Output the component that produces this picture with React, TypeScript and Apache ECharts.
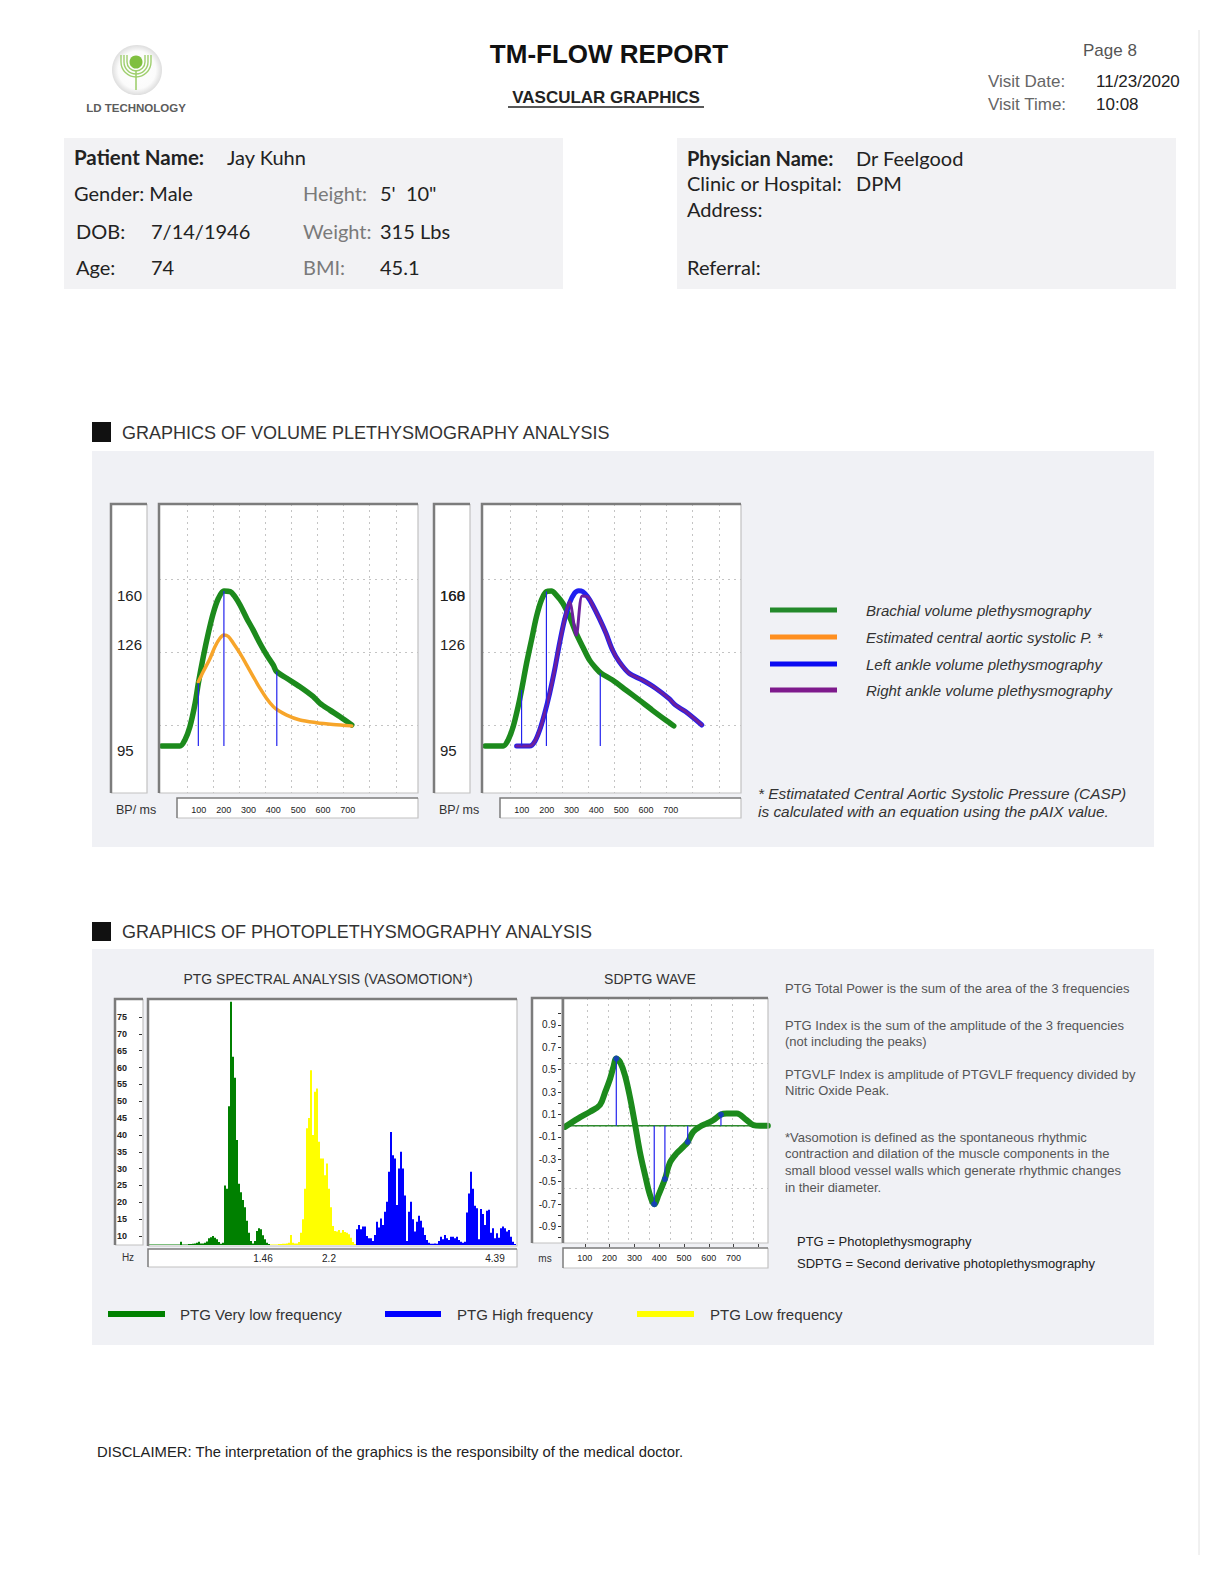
import React, { useEffect, useRef } from "react";
import * as echarts from "echarts";

const SANS = '"Liberation Sans", Arial, Helvetica, sans-serif';
const BODY = 'Lato, "Open Sans", sans-serif';

// ---------- Volume plethysmography: [ms, relative amplitude %] ----------
const brachialLeft = [
  [-50, 17.8], [24, 17.8], [44, 19.9], [64, 24.4], [85, 32.4], [98, 39.3], [118, 48.4], [138, 56.4],
  [158, 63.3], [179, 68.4], [201, 70.9], [226, 70.7], [246, 68.9], [266, 66.1], [293, 61.5], [319, 57.5],
  [346, 53.0], [373, 49.0], [400, 45.5], [413, 43.3], [454, 41.0], [507, 38.1], [561, 34.7], [588, 32.4],
  [628, 30.1], [669, 27.8], [716, 25.0],
];
const caspLeft = [
  [98, 39.8], [118, 43.3], [145, 47.8], [165, 51.8], [185, 54.7], [201, 55.8], [219, 55.3], [239, 53.0],
  [266, 49.5], [293, 45.5], [319, 41.6], [346, 37.6], [373, 34.1], [400, 31.3], [413, 30.4], [454, 28.4],
  [507, 26.7], [574, 25.8], [641, 25.2], [716, 24.7],
];
const markersLeftMs = [98, 201, 414];
const markersLeftTop = [39.3, 70.9, 43.3];

const brachialRight = [
  [-48, 17.8], [25, 17.8], [45, 19.9], [65, 24.4], [85, 31.3], [99, 37.0], [119, 46.1], [139, 54.1],
  [159, 62.1], [179, 67.8], [199, 70.7], [219, 70.9], [239, 69.5], [265, 66.7], [292, 62.1], [319, 56.4],
  [345, 51.8], [372, 47.3], [399, 44.4], [419, 42.7], [465, 40.4], [519, 37.0], [572, 33.6], [625, 30.1],
  [679, 26.7], [712, 24.7],
];
const leftAnkle = [
  [79, 17.8], [132, 17.8], [152, 19.3], [172, 23.3], [192, 29.0], [212, 35.8], [232, 43.8], [252, 53.0],
  [272, 61.0], [292, 66.7], [312, 70.1], [329, 71.0], [345, 70.7], [365, 68.9], [385, 66.1], [412, 61.5],
  [439, 56.4], [465, 50.7], [492, 46.7], [532, 42.7], [585, 40.4], [639, 37.6], [692, 34.1], [719, 31.8],
  [759, 29.6], [825, 25.0],
];
const rightAnkle = [
  [79, 17.8], [132, 17.8], [152, 19.3], [172, 23.3], [192, 29.0], [212, 35.8], [232, 43.8], [252, 53.0],
  [272, 61.0], [292, 67.3], [319, 55.8], [343, 69.2], [365, 68.9], [385, 66.1], [412, 61.5], [439, 56.4],
  [465, 50.7], [492, 46.7], [532, 42.7], [585, 40.4], [639, 37.6], [692, 34.1], [719, 31.8], [759, 29.6],
  [825, 25.0],
];
const markersRightMs = [99, 199, 416];
const markersRightTop = [37.0, 70.7, 42.7];
const volumeBase = 17.8;

const bpLabelsLeft = ["160", "126", "95"];
const bpLabelValuesLeft = [69.2, 52.4, 16.4];
const bpLabelsRight = ["160", "168", "126", "95"];
const bpLabelValuesRight = [69.2, 69.2, 52.4, 16.4];
const msTickLabels = [100, 200, 300, 400, 500, 600, 700];

// ---------- PTG spectral analysis (amplitude per frequency bin) ----------
const vlfValues = [
  7.5, 7.5, 7.5, 7.5, 7.5, 7.5, 7.5, 7.5, 7.5, 7.5, 7.5, 7.5, 7.5, 7.5, 7.5, 7.5,
  8.3, 7.5, 7.5, 7.5, 7.6, 7.6, 7.7, 7.8, 8.0, 8.3, 7.8, 7.8, 8.0, 8.4, 9.3, 9.6,
  10.0, 9.5, 9.0, 8.2, 7.7, 8.0, 25.0, 24.0, 48.5, 79.5, 63.2, 57.0, 38.5, 25.5, 23.0, 20.7,
  18.5, 14.5, 11.0, 8.5, 7.8, 8.5, 11.5, 12.3, 12.0, 10.2, 9.0, 8.0, 7.6,
];
const lfValues = [
  7.5, 7.5, 7.5, 7.5, 7.6, 7.6, 7.7, 7.7, 7.8, 8.0, 10.3, 8.0, 7.8, 7.8, 8.2, 11.0,
  15.0, 24.0, 42.0, 45.0, 59.2, 40.0, 52.8, 53.8, 38.0, 33.0, 33.0, 28.0, 31.5, 24.0, 18.5, 13.0,
  11.5, 11.3, 11.8, 11.0, 11.8, 11.2, 11.0, 10.5, 9.5, 8.2, 7.6,
];
const hfValues = [
  12.0, 13.3, 12.0, 12.8, 12.8, 10.0, 9.3, 9.3, 8.5, 10.3, 14.2, 12.5, 15.2, 13.3, 17.2, 20.2,
  29.1, 40.9, 34.0, 33.0, 19.2, 30.0, 35.0, 30.0, 22.0, 8.5, 17.2, 20.2, 15.0, 11.3, 14.2, 16.0,
  14.5, 12.5, 10.3, 8.8, 8.0, 7.7, 7.7, 7.8, 7.7, 8.5, 9.8, 9.0, 10.3, 9.3, 8.8, 9.8,
  9.8, 9.3, 9.8, 8.8, 8.3, 8.0, 8.3, 17.0, 22.6, 29.1, 24.0, 19.0, 18.2, 9.0, 18.0, 16.5,
  13.3, 17.5, 17.8, 11.0, 12.3, 9.3, 10.8, 9.5, 12.3, 12.8, 12.3, 11.3, 11.8, 9.8, 8.3, 7.6,
];
const hzLabels = ["1.46", "2.2", "4.39"];
const hzLabelBins = [57, 90, 173];

// ---------- SDPTG wave: [ms, amplitude] ----------
const sdptgWave = [
  [20, -0.01], [74, 0.066], [121, 0.125], [161, 0.185], [182, 0.3], [202, 0.42], [216, 0.53], [227, 0.6],
  [242, 0.57], [262, 0.45], [283, 0.245], [303, 0.006], [322, -0.232], [343, -0.44], [363, -0.62], [380, -0.7],
  [397, -0.62], [423, -0.476], [443, -0.33], [470, -0.247], [498, -0.187], [515, -0.145], [537, -0.054],
  [564, -0.009], [592, 0.021], [619, 0.051], [649, 0.1], [672, 0.11], [713, 0.11], [752, 0.051],
  [780, 0.006], [807, 0.0], [838, 0.0],
];
const sdptgPointMs = [227, 380, 423, 515, 649];
const sdptgPointVal = [0.6, -0.7, -0.476, -0.145, 0.1];
const sdptgZero = [[12.1, 0], [838.7, 0]];

// ---------- Texts ----------
const volLegend = [
  "Brachial volume plethysmography",
  "Estimated central aortic systolic P. *",
  "Left ankle volume plethysmography",
  "Right ankle volume plethysmography",
];
const ptgNotes = [
  "PTG Total Power is the sum of the area of the 3 frequencies",
  "PTG Index is the sum of the amplitude of the 3 frequencies",
  "(not including the peaks)",
  "PTGVLF Index is amplitude of PTGVLF frequency divided by",
  "Nitric Oxide Peak.",
  "*Vasomotion is defined as the spontaneous rhythmic",
  "contraction and dilation of the muscle components in the",
  "small blood vessel walls which generate rhythmic changes",
  "in their diameter.",
];

const GREEN = "#1c8a1c";
const ORANGE = "#f7a52a";
const BLUE = "#1f1ff0";
const PURPLE = "#6d1f9e";
const MARK = "#2323ee";
const GRID_LINE = { type: [2, 4] as any, color: "#c4c4c4", width: 1 };

export default function App() {
  const ref = useRef<HTMLDivElement>(null);

  useEffect(() => {
    if (!ref.current) return;
    const chart = echarts.init(ref.current, null, { renderer: "svg" });

    const grids: any[] = [];
    const xAxes: any[] = [];
    const yAxes: any[] = [];
    const series: any[] = [];
    const addGrid = (rect: any, xa: any, ya: any) => {
      const gi = grids.length;
      grids.push({ ...rect, containLabel: false, show: false });
      xAxes.push({ ...xa, gridIndex: gi });
      yAxes.push({ ...ya, gridIndex: gi });
      return gi;
    };
    const hiddenAxis = { type: "value", show: false, min: 0, max: 1 };
    const splitOnly = (min: number, max: number, interval: number) => ({
      type: "value", min, max, interval,
      axisLine: { show: false }, axisTick: { show: false }, axisLabel: { show: false },
      splitLine: { show: true, showMinLine: false, showMaxLine: false, lineStyle: GRID_LINE },
    });
    const lineSeries = (gi: number, data: any, color: string, width: number, z: number, smooth: any = 0.3) => ({
      type: "line", xAxisIndex: gi, yAxisIndex: gi, data, smooth, symbol: "none", z, silent: true,
      lineStyle: { color, width, cap: "round", join: "round" },
    });
    const msFormatter = (v: number) => (msTickLabels.indexOf(Math.round(v)) >= 0 ? String(Math.round(v)) : "");

    // ---- volume charts ----
    const volCharts = [
      { dx: 0, lines: [[brachialLeft, GREEN, 5.5], [caspLeft, ORANGE, 3.5]], mMs: markersLeftMs, mTop: markersLeftTop, labels: bpLabelsLeft, labelVals: bpLabelValuesLeft },
      { dx: 323, lines: [[brachialRight, GREEN, 5.5], [leftAnkle, BLUE, 5], [rightAnkle, PURPLE, 3]], mMs: markersRightMs, mTop: markersRightTop, labels: bpLabelsRight, labelVals: bpLabelValuesRight },
    ];
    const volGrid: number[] = [];
    volCharts.forEach((vc) => {
      const gData = addGrid(
        { left: 159 + vc.dx, top: 506, width: 259, height: 292 },
        { type: "value", show: false, min: -60.4, max: 982.7 },
        splitOnly(0, 100, 25)
      );
      volGrid.push(gData);
      addGrid({ left: 160.9 + vc.dx, top: 504, width: 261, height: 289 }, splitOnly(0, 10, 1), hiddenAxis);
      addGrid(
        { left: 174 + vc.dx, top: 797, width: 244, height: 1 },
        {
          type: "value", min: 0, max: 982.7, interval: 100,
          axisLine: { show: false }, axisTick: { show: false }, splitLine: { show: false },
          axisLabel: { margin: 7, fontSize: 9, color: "#222", fontFamily: SANS, showMinLabel: false, showMaxLabel: false, formatter: msFormatter },
        },
        hiddenAxis
      );
      vc.lines.forEach((l: any, i: number) => series.push(lineSeries(gData, l[0], l[1], l[2], 2 + i)));
      vc.mMs.forEach((ms, i) =>
        series.push({ ...lineSeries(gData, [[ms, volumeBase], [ms, vc.mTop[i]]], MARK, 1.2, 8, false), lineStyle: { color: MARK, width: 1.2 } })
      );
    });

    // ---- PTG spectral ----
    const nBins = vlfValues.length + lfValues.length + hfValues.length;
    const bins = Array.from({ length: nBins }, (_, i) => String(i));
    const gS = addGrid(
      { left: 148, top: 999, width: 368, height: 246 },
      { type: "category", data: bins, show: false, boundaryGap: true },
      { type: "value", show: false, min: 7.33, max: 80.34 }
    );
    const pad = (n: number) => Array.from({ length: n }, () => null);
    const bands = [
      [[...vlfValues, ...pad(lfValues.length + hfValues.length)], "#008000"],
      [[...pad(vlfValues.length), ...lfValues, ...pad(hfValues.length)], "#ffff00"],
      [[...pad(vlfValues.length + lfValues.length), ...hfValues], "#0000ff"],
    ];
    bands.forEach((b: any) =>
      series.push({
        type: "bar", xAxisIndex: gS, yAxisIndex: gS, data: b[0], barCategoryGap: "0%", barGap: "-100%",
        itemStyle: { color: b[1] }, silent: true, z: 2,
      })
    );
    addGrid(
      { left: 142, top: 1017, width: 1, height: 219 },
      hiddenAxis,
      {
        type: "value", min: 10, max: 75, interval: 5,
        axisLine: { show: false }, splitLine: { show: false },
        axisTick: { show: true, length: 3, lineStyle: { color: "#333", width: 1 } },
        axisLabel: { align: "left", margin: 25, fontSize: 9, fontWeight: "bold", color: "#222", fontFamily: SANS },
      }
    );

    // ---- SDPTG ----
    const gD = addGrid(
      { left: 563, top: 1000.3, width: 205, height: 250.9 },
      { type: "value", show: false, min: 12.1, max: 838.7 },
      splitOnly(-1.12, 1.12, 0.56)
    );
    addGrid({ left: 566.25, top: 998, width: 207.5, height: 245 }, splitOnly(0, 10, 1), hiddenAxis);
    addGrid(
      { left: 560, top: 1243, width: 208, height: 1 },
      {
        type: "value", min: 0, max: 838.7, interval: 100,
        axisLine: { show: false }, splitLine: { show: false },
        axisTick: { show: true, inside: false, length: 3, lineStyle: { color: "#444", width: 1 } },
        axisLabel: { margin: 9, fontSize: 9, color: "#222", fontFamily: SANS, showMinLabel: false, showMaxLabel: false, formatter: msFormatter },
      },
      hiddenAxis
    );
    addGrid(
      { left: 561, top: 1013.7, width: 1, height: 224 },
      hiddenAxis,
      {
        type: "value", min: -1, max: 1, interval: 0.1,
        axisLine: { show: false }, splitLine: { show: false },
        axisTick: { show: true, length: 3, lineStyle: { color: "#333", width: 1 } },
        axisLabel: {
          margin: 5, fontSize: 10, color: "#222", fontFamily: SANS,
          formatter: (v: number) => {
            const k = Math.round(v * 10);
            return Math.abs(k) % 2 === 1 && Math.abs(k) <= 9 ? (k / 10).toFixed(1) : "";
          },
        },
      }
    );
    series.push(lineSeries(gD, sdptgZero, "#2e8b2e", 1.3, 2, false));
    series.push(lineSeries(gD, sdptgWave, GREEN, 6, 3, 0.35));
    sdptgPointMs.forEach((ms, i) =>
      series.push({ ...lineSeries(gD, [[ms, 0], [ms, sdptgPointVal[i]]], MARK, 1.2, 5, false), lineStyle: { color: MARK, width: 1.2 } })
    );
    series.push({
      type: "scatter", xAxisIndex: gD, yAxisIndex: gD, silent: true, z: 6, symbolSize: 6,
      data: sdptgPointMs.map((ms, i) => [ms, sdptgPointVal[i]]),
      itemStyle: { color: "#1535d0" },
    });

    chart.setOption({ animation: false, grid: grids, xAxis: xAxes, yAxis: yAxes, series });

    // ---------- graphics ----------
    const txt = (x: number, y: number, text: string, o: any = {}) => ({
      type: "text", x, y, z: 10, silent: true,
      style: {
        text, fill: o.fill ?? "#222", fontSize: o.size ?? 14, fontFamily: o.family ?? SANS,
        fontWeight: o.weight ?? "normal", fontStyle: o.italic ? "italic" : "normal",
        textAlign: o.align ?? "left", textVerticalAlign: "middle",
      },
    });
    const ln = (x1: number, y1: number, x2: number, y2: number, stroke: string, w: number, z = 10) => ({
      type: "line", z, silent: true, shape: { x1, y1, x2, y2 }, style: { stroke, lineWidth: w },
    });
    const rc = (x: number, y: number, w: number, h: number, fill: string, z = -10) => ({
      type: "rect", z, silent: true, shape: { x, y, width: w, height: h }, style: { fill },
    });
    const frame = (x: number, y: number, w: number, h: number, thick = 2.5) => [
      rc(x, y, w, h, "#ffffff", -5),
      { type: "polyline", z: 20, silent: true, shape: { points: [[x + w, y], [x + w, y + h], [x, y + h]] }, style: { stroke: "#c2c2c2", lineWidth: 1.2, fill: null } },
      { type: "polyline", z: 21, silent: true, shape: { points: [[x, y + h], [x, y], [x + w, y]] }, style: { stroke: "#7c7c7c", lineWidth: thick, fill: null } },
    ];

    const g: any[] = [];
    // right margin line
    g.push(ln(1199, 30, 1199, 1555, "#e2e2e2", 1, 0));
    // logo
    g.push({
      type: "circle", z: 5, silent: true, shape: { cx: 137, cy: 70, r: 25 },
      style: {
        fill: new echarts.graphic.RadialGradient(0.5, 0.5, 0.5, [
          { offset: 0, color: "#ffffff" }, { offset: 0.75, color: "#fbfbfb" }, { offset: 1, color: "#dedede" },
        ]),
      },
    });
    [9, 12, 15].forEach((r) =>
      g.push({ type: "arc", z: 6, silent: true, shape: { cx: 136, cy: 62, r, startAngle: 0, endAngle: Math.PI, clockwise: true }, style: { stroke: "#9fcf6e", lineWidth: 1.4, fill: null } })
    );
    [-15, -12, -9, 9, 12, 15].forEach((d) => g.push(ln(136 + d, 55, 136 + d, 62, "#9fcf6e", 1.4, 6)));
    g.push(ln(136, 70, 136, 90, "#9fcf6e", 1.6, 6));
    g.push({ type: "circle", z: 7, silent: true, shape: { cx: 136, cy: 62, r: 6.5 }, style: { fill: "#7fbf3f" } });
    g.push(txt(136, 108, "LD TECHNOLOGY", { size: 11.5, weight: "bold", fill: "#5c5c5c", align: "center" }));

    // header
    g.push(txt(609, 54, "TM-FLOW REPORT", { size: 26, weight: "bold", fill: "#111", align: "center" }));
    g.push(txt(606, 97, "VASCULAR GRAPHICS", { size: 17, weight: "bold", fill: "#222", align: "center" }));
    g.push(ln(508, 107, 704, 107, "#222", 1.3));
    g.push(txt(1083, 50, "Page 8", { size: 17, fill: "#555" }));
    g.push(txt(988, 81, "Visit Date:", { size: 17, fill: "#666" }));
    g.push(txt(1096, 81, "11/23/2020", { size: 17, fill: "#222" }));
    g.push(txt(988, 104, "Visit Time:", { size: 17, fill: "#666" }));
    g.push(txt(1096, 104, "10:08", { size: 17, fill: "#222" }));

    // patient / physician boxes
    g.push(rc(64, 138, 499, 151, "#f2f2f4"));
    g.push(rc(677, 138, 499, 151, "#f2f2f4"));
    const P = { size: 20, family: BODY, fill: "#222" };
    const PG = { size: 20, family: BODY, fill: "#7a7a7a" };
    g.push(txt(74, 157, "Patient Name:", { ...P, weight: "bold", size: 20.5 }));
    g.push(txt(227, 157, "Jay Kuhn", P));
    g.push(txt(74, 193, "Gender: Male", P));
    g.push(txt(303, 193, "Height:", PG));
    g.push(txt(380, 193, "5'  10\"", P));
    g.push(txt(76, 231, "DOB:", P));
    g.push(txt(151, 231, "7/14/1946", P));
    g.push(txt(303, 231, "Weight:", PG));
    g.push(txt(380, 231, "315 Lbs", P));
    g.push(txt(76, 267, "Age:", P));
    g.push(txt(151, 267, "74", P));
    g.push(txt(303, 267, "BMI:", PG));
    g.push(txt(380, 267, "45.1", P));
    g.push(txt(687, 158, "Physician Name:", { ...P, weight: "bold" }));
    g.push(txt(856, 158, "Dr Feelgood", P));
    g.push(txt(687, 183, "Clinic or Hospital:", P));
    g.push(txt(856, 183, "DPM", P));
    g.push(txt(687, 209, "Address:", P));
    g.push(txt(687, 267, "Referral:", P));

    // section 1
    g.push(rc(92, 422, 19, 20, "#111", 5));
    g.push(txt(122, 433, "GRAPHICS OF VOLUME PLETHYSMOGRAPHY ANALYSIS", { size: 18, fill: "#333" }));
    g.push(rc(92, 451, 1062, 396, "#f0f1f5"));
    volCharts.forEach((vc) => {
      g.push(...frame(111 + vc.dx, 504, 36, 289));
      g.push(...frame(159 + vc.dx, 504, 259, 289));
      g.push(...frame(177 + vc.dx, 798, 241, 20, 1.5));
      g.push(txt(116 + vc.dx, 810, "BP/ ms", { size: 12.5, fill: "#333" }));
    });
    volCharts.forEach((vc, ci) => {
      vc.labels.forEach((lab, i) => {
        const p = chart.convertToPixel({ gridIndex: volGrid[ci] } as any, [0, vc.labelVals[i]]) as number[];
        g.push(txt(117 + vc.dx, p[1], lab, { size: 15, fill: "#222" }));
      });
    });
    const legColors = ["#23892a", "#ff8f1f", "#0a0af2", "#7e1a8c"];
    const legY = [610, 637, 664, 690];
    volLegend.forEach((t, i) => {
      g.push(ln(770, legY[i], 837, legY[i], legColors[i], 5));
      g.push(txt(866, legY[i], t, { size: 15, italic: true, fill: "#333" }));
    });
    g.push(txt(758, 793, "* Estimatated Central Aortic Systolic Pressure (CASP)", { size: 15.4, italic: true, fill: "#333" }));
    g.push(txt(758, 811, "is calculated with an equation using the pAIX value.", { size: 15.4, italic: true, fill: "#333" }));

    // section 2
    g.push(rc(92, 922, 19, 19, "#111", 5));
    g.push(txt(122, 932, "GRAPHICS OF PHOTOPLETHYSMOGRAPHY ANALYSIS", { size: 18, fill: "#333" }));
    g.push(rc(92, 949, 1062, 396, "#f0f1f5"));
    g.push(txt(328, 979, "PTG SPECTRAL ANALYSIS (VASOMOTION*)", { size: 14, fill: "#333", align: "center" }));
    g.push(txt(650, 979, "SDPTG WAVE", { size: 14, fill: "#333", align: "center" }));
    g.push(...frame(115, 999, 28, 246));
    g.push(...frame(148, 999, 369, 247));
    g.push(...frame(148, 1249, 369, 18, 1.5));
    g.push(txt(128, 1257, "Hz", { size: 10, fill: "#333", align: "center" }));
    hzLabels.forEach((lab, i) => {
      const p = chart.convertToPixel({ gridIndex: gS } as any, [hzLabelBins[i], 10]) as number[];
      g.push(txt(p[0], 1258, lab, { size: 10, fill: "#222", align: "center" }));
    });
    g.push(...frame(532, 998, 30, 245));
    g.push(...frame(563, 998, 205, 245));
    g.push(...frame(563, 1248, 205, 20, 1.5));
    g.push(txt(545, 1258, "ms", { size: 10, fill: "#333", align: "center" }));

    const noteY = [988, 1025, 1041, 1074, 1090, 1137, 1153, 1170, 1187];
    ptgNotes.forEach((t, i) => g.push(txt(785, noteY[i], t, { size: 13, fill: "#555" })));
    g.push(txt(797, 1241, "PTG = Photoplethysmography", { size: 13, fill: "#222" }));
    g.push(txt(797, 1263, "SDPTG = Second derivative photoplethysmography", { size: 13, fill: "#222" }));

    // bottom legend
    const bl = [
      [108, 165, "#008000", 180, "PTG Very low frequency"],
      [385, 441, "#0000ff", 457, "PTG High frequency"],
      [637, 694, "#ffff00", 710, "PTG Low frequency"],
    ];
    bl.forEach((b: any) => {
      g.push(ln(b[0], 1314, b[1], 1314, b[2], 6));
      g.push(txt(b[3], 1314, b[4], { size: 15, fill: "#333" }));
    });

    g.push(txt(97, 1452, "DISCLAIMER: The interpretation of the graphics is the responsibilty of the medical doctor.", { size: 14.8, fill: "#222" }));

    chart.setOption({ graphic: { elements: g } });

    return () => chart.dispose();
  }, []);

  return (
    <div
      ref={ref}
      style={{ position: "absolute", left: 0, top: 0, width: 1224, height: 1584, background: "#ffffff" }}
    />
  );
}
